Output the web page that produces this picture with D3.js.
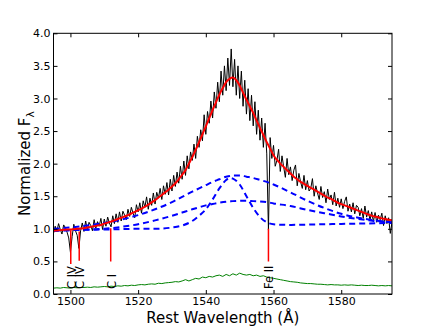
<!DOCTYPE html>
<html><head><meta charset="utf-8">
<script src="https://cdn.jsdelivr.net/npm/d3@7"></script>
<style>body{margin:0;background:#fff}svg{display:block}text{font-family:"DejaVu Sans",sans-serif}</style>
</head><body><svg id="c" width="436" height="327"></svg>
<script>
// observed spectrum, 1495..1595 step 0.5 A
const specStart = 1495, specStep = 0.5;
const specFlux = [
0.93,1.04,0.96,1.08,0.99,0.92,1.06,1.02,0.95,0.86,
0.64,0.88,1.07,0.97,0.90,0.70,0.97,1.09,0.96,1.12,
0.98,1.10,1.05,0.97,1.14,1.01,1.11,1.04,1.16,0.99,
1.15,1.04,1.18,1.09,1.03,1.20,1.08,1.23,1.10,1.26,
1.12,1.27,1.21,1.14,1.30,1.19,1.33,1.24,1.17,1.37,
1.26,1.40,1.24,1.43,1.33,1.49,1.30,1.47,1.36,1.55,
1.38,1.56,1.47,1.62,1.45,1.66,1.53,1.71,1.52,1.76,
1.58,1.82,1.65,1.87,1.70,1.96,1.76,2.04,1.82,2.12,
1.92,2.18,2.05,2.30,2.08,2.42,2.25,2.52,2.35,2.75,
2.45,2.80,2.62,2.96,2.70,3.10,2.85,3.25,2.95,3.42,
3.05,3.50,3.12,3.62,3.20,3.76,3.18,3.60,3.05,3.50,
3.00,3.42,2.88,3.28,2.76,3.15,2.66,3.05,2.58,2.95,
2.45,2.82,2.36,2.70,2.25,2.62,2.15,0.98,2.40,2.08,
2.28,1.96,2.05,2.22,1.88,2.12,1.95,1.79,2.08,1.83,
1.95,1.74,1.90,1.98,1.66,1.85,1.72,1.62,1.82,1.60,
1.74,1.58,1.62,1.77,1.50,1.66,1.55,1.45,1.65,1.48,
1.57,1.40,1.61,1.45,1.52,1.37,1.56,1.35,1.47,1.33,
1.46,1.31,1.42,1.49,1.27,1.38,1.26,1.40,1.23,1.36,
1.33,1.20,1.31,1.16,1.35,1.18,1.28,1.13,1.26,1.11,
1.25,1.10,1.21,1.14,1.24,1.05,1.20,1.08,1.17,0.93,
1.10];
// total model fit, 1495..1595 step 1 A
const fitStart = 1495, fitStep = 1;
const fitFlux = [
0.97,0.975,0.98,0.985,0.99,0.99,0.995,1.0,1.005,1.01,
1.02,1.03,1.04,1.05,1.06,1.08,1.095,1.11,1.13,1.15,
1.17,1.19,1.21,1.235,1.26,1.285,1.31,1.34,1.37,1.405,
1.44,1.48,1.52,1.56,1.6,1.65,1.7,1.76,1.83,1.9,
2.0,2.1,2.21,2.33,2.45,2.57,2.7,2.82,2.94,3.06,
3.16,3.25,3.3,3.32,3.28,3.2,3.09,2.98,2.88,2.78,
2.66,2.55,2.44,2.33,2.23,2.13,2.06,2.0,1.95,1.9,
1.85,1.8,1.76,1.72,1.69,1.66,1.63,1.6,1.57,1.54,
1.51,1.48,1.46,1.43,1.4,1.38,1.36,1.34,1.32,1.3,
1.28,1.26,1.24,1.22,1.2,1.19,1.175,1.16,1.15,1.14,
1.13];
// model components
const compWave = [1495,1500,1505,1510,1515,1520,1525,1530,1533,1536,1538,1540,1542,1544,1546,1547,1548,1550,1552,1554,1556,1558,1560,1565,1570,1575,1580,1585,1590,1595];
const compBroad = [1.0,1.02,1.05,1.09,1.14,1.21,1.30,1.41,1.49,1.57,1.62,1.67,1.72,1.76,1.80,1.81,1.82,1.82,1.80,1.78,1.75,1.72,1.68,1.56,1.43,1.32,1.23,1.17,1.13,1.10];
const compMid = [0.97,0.98,0.99,1.0,1.03,1.07,1.13,1.20,1.25,1.30,1.33,1.36,1.38,1.40,1.415,1.42,1.425,1.43,1.43,1.425,1.42,1.41,1.39,1.35,1.29,1.24,1.19,1.15,1.12,1.10];
const compNarrow = [0.97,0.98,0.985,0.99,0.995,1.0,1.0,1.02,1.05,1.12,1.20,1.30,1.45,1.62,1.75,1.78,1.77,1.68,1.50,1.32,1.18,1.10,1.07,1.06,1.065,1.07,1.075,1.08,1.085,1.09];
// error spectrum, 1495..1595 step 1 A
const errFlux = [
0.09,0.095,0.09,0.1,0.095,0.09,0.1,0.095,0.1,0.1,
0.105,0.1,0.11,0.105,0.11,0.115,0.11,0.12,0.115,0.125,
0.12,0.13,0.125,0.135,0.13,0.14,0.145,0.14,0.15,0.155,
0.15,0.165,0.16,0.17,0.175,0.18,0.19,0.185,0.2,0.22,
0.2,0.22,0.24,0.23,0.26,0.25,0.27,0.26,0.28,0.29,
0.27,0.3,0.28,0.31,0.29,0.32,0.3,0.29,0.3,0.28,
0.29,0.27,0.28,0.26,0.25,0.24,0.23,0.22,0.21,0.2,
0.19,0.185,0.18,0.17,0.165,0.16,0.16,0.155,0.15,0.15,
0.145,0.14,0.145,0.14,0.14,0.135,0.14,0.135,0.14,0.135,
0.13,0.135,0.13,0.13,0.135,0.13,0.125,0.13,0.125,0.13,
0.125];
// absorption line markers
const absWave = [1500.1, 1502.6, 1511.9, 1558.5];
const absTop = [0.98, 0.96, 1.01, 1.0];
const absBottom = [0.46, 0.51, 0.5, 0.5];
const absLabel = ["C IV", "C IV", "C I", "Fe II"];
const xTicks = [1500, 1520, 1540, 1560, 1580];
const yTicks = [0.0, 0.5, 1.0, 1.5, 2.0, 2.5, 3.0, 3.5, 4.0];

const svg = d3.select("#c");
const L = 53.5, R = 392, T = 33.3, B = 294;
const x = d3.scaleLinear().domain([1495, 1595]).range([L, R]);
const y = d3.scaleLinear().domain([0, 4]).range([B, T]);

svg.append("clipPath").attr("id","clip").append("rect")
  .attr("x", L).attr("y", T).attr("width", R - L).attr("height", B - T);
const g = svg.append("g").attr("clip-path","url(#clip)");

const spec = specFlux.map((v,i)=>[specStart + i*specStep, v]);
const fit = fitFlux.map((v,i)=>[fitStart + i*fitStep, v]);
const err = errFlux.map((v,i)=>[fitStart + i*fitStep, v]);
const lineLin = d3.line().x(d=>x(d[0])).y(d=>y(d[1]));
const lineSm = d3.line().x(d=>x(d[0])).y(d=>y(d[1])).curve(d3.curveMonotoneX);

g.append("path").attr("d", lineLin(spec)).attr("fill","none").attr("stroke","#000").attr("stroke-width",1);
g.append("path").attr("d", lineLin(err)).attr("fill","none").attr("stroke","#008000").attr("stroke-width",1);
[compBroad, compMid, compNarrow].forEach(c=>{
  g.append("path").attr("d", lineSm(c.map((v,i)=>[compWave[i], v])))
   .attr("fill","none").attr("stroke","#0000ff").attr("stroke-width",2).attr("stroke-dasharray","6,4");
});
g.append("path").attr("d", lineSm(fit)).attr("fill","none").attr("stroke","#ff0000").attr("stroke-width",2);
absWave.forEach((w,i)=>{
  g.append("line").attr("x1", x(w)).attr("x2", x(w)).attr("y1", y(absTop[i])).attr("y2", y(absBottom[i]))
   .attr("stroke","#ff0000").attr("stroke-width",1.5);
  svg.append("text").attr("transform", `translate(${x(w)+5},289) rotate(-90)`)
   .attr("font-size", 11.5).attr("text-anchor","start").attr("fill","#000").text(absLabel[i]);
});

// frame
svg.append("rect").attr("x", L).attr("y", T).attr("width", R - L).attr("height", B - T)
  .attr("fill","none").attr("stroke","#000").attr("stroke-width",1);

function styleAxis(sel){ sel.select(".domain").remove(); sel.selectAll("line").attr("stroke","#000");
  sel.selectAll("text").attr("font-size",11).attr("fill","#000").attr("font-family","DejaVu Sans"); }
svg.append("g").attr("transform",`translate(0,${B})`)
  .call(d3.axisBottom(x).tickValues(xTicks).tickSize(-4).tickPadding(3).tickFormat(d3.format("d"))).call(styleAxis);
svg.append("g").attr("transform",`translate(0,${T})`)
  .call(d3.axisTop(x).tickValues(xTicks).tickSize(-4).tickFormat("")).call(styleAxis);
svg.append("g").attr("transform",`translate(${L},0)`)
  .call(d3.axisLeft(y).tickValues(yTicks).tickSize(-4).tickPadding(3).tickFormat(d3.format(".1f"))).call(styleAxis);
svg.append("g").attr("transform",`translate(${R},0)`)
  .call(d3.axisRight(y).tickValues(yTicks).tickSize(-4).tickFormat("")).call(styleAxis);

svg.append("text").attr("x", (L+R)/2).attr("y", 323).attr("text-anchor","middle")
  .attr("font-size",15).attr("fill","#000").text("Rest Wavelength (Å)");
const yl = svg.append("text").attr("transform",`translate(30,${(T+B)/2}) rotate(-90)`)
  .attr("text-anchor","middle").attr("font-size",15).attr("fill","#000");
yl.append("tspan").text("Normalized F");
yl.append("tspan").attr("font-size",10.5).attr("dy",4).text("λ");
</script></body></html>
